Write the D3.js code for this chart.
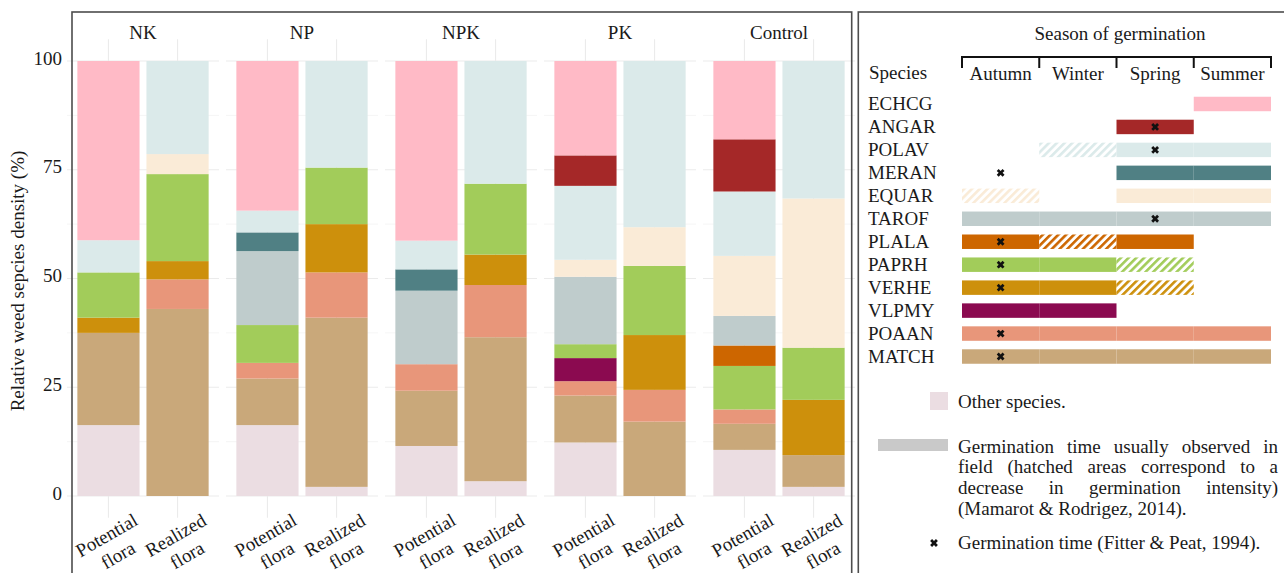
<!DOCTYPE html>
<html>
<head>
<meta charset="utf-8">
<script src="https://cdn.jsdelivr.net/npm/d3@7"></script>
<style>
  body { margin: 0; background: #fff; }
  svg { display: block; font-family: "Liberation Serif", "Times New Roman", serif; }
</style>
</head>
<body>
<svg id="chart" width="1284" height="573"></svg>
<script>
// ---- Relative density data (%), one value per fertilisation x flora bar ----
const groups = ["NK", "NP", "NPK", "PK", "Control"];
const floraTypes = ["Potential flora", "Realized flora"];
// stacking order, bottom to top
const stackKeys = ["Other", "MATCH", "POAAN", "VLPMY", "VERHE", "PAPRH", "PLALA",
                   "TAROF", "EQUAR", "MERAN", "POLAV", "ANGAR", "ECHCG"];
// bar order: NK-P, NK-R, NP-P, NP-R, NPK-P, NPK-R, PK-P, PK-R, Control-P, Control-R
const Other = [16.3, 0.0, 16.3, 2.1, 11.5, 3.4, 12.3, 0.0, 10.6, 2.1];
const MATCH = [21.2, 43.0, 10.7, 38.9, 12.7, 33.1, 10.8, 17.1, 6.0, 7.3];
const POAAN = [0.0, 6.8, 3.6, 10.4, 6.1, 12.0, 3.3, 7.3, 3.3, 0.0];
const VLPMY = [0.0, 0.0, 0.0, 0.0, 0.0, 0.0, 5.3, 0.0, 0.0, 0.0];
const VERHE = [3.5, 4.2, 0.0, 11.1, 0.0, 7.0, 0.0, 12.6, 0.0, 12.7];
const PAPRH = [10.4, 20.0, 8.7, 13.0, 0.0, 16.3, 3.2, 15.9, 10.0, 12.0];
const PLALA = [0.0, 0.0, 0.0, 0.0, 0.0, 0.0, 0.0, 0.0, 4.7, 0.0];
const TAROF = [0.0, 0.0, 17.0, 0.0, 16.9, 0.0, 15.5, 0.0, 6.8, 0.0];
const EQUAR = [0.0, 4.6, 0.0, 0.0, 0.0, 0.0, 3.9, 8.9, 13.8, 34.3];
const MERAN = [0.0, 0.0, 4.3, 0.0, 4.9, 0.0, 0.0, 0.0, 0.0, 0.0];
const POLAV = [7.4, 21.4, 5.0, 24.5, 6.6, 28.2, 17.0, 38.2, 14.8, 31.6];
const ANGAR = [0.0, 0.0, 0.0, 0.0, 0.0, 0.0, 7.0, 0.0, 12.0, 0.0];
const ECHCG = [41.2, 0.0, 34.4, 0.0, 41.3, 0.0, 21.7, 0.0, 18.0, 0.0];
const yTicks = [0, 25, 50, 75, 100];

// ---- Germination calendar ----
const seasons = ["Autumn", "Winter", "Spring", "Summer"];
const speciesRows = ["ECHCG", "ANGAR", "POLAV", "MERAN", "EQUAR", "TAROF",
                     "PLALA", "PAPRH", "VERHE", "VLPMY", "POAAN", "MATCH"];
// per season: 0 = none, 1 = usual germination, 2 = reduced (hatched)
const germinationPeriods = {
  ECHCG: [0, 0, 0, 1], ANGAR: [0, 0, 1, 0], POLAV: [0, 2, 1, 1], MERAN: [0, 0, 1, 1],
  EQUAR: [2, 0, 1, 1], TAROF: [1, 1, 1, 1], PLALA: [1, 2, 1, 0], PAPRH: [1, 1, 2, 0],
  VERHE: [1, 1, 2, 0], VLPMY: [1, 1, 0, 0], POAAN: [1, 1, 1, 1], MATCH: [1, 1, 1, 1]
};
// season of germination reported by Fitter & Peat (1994)
const fitterSeason = {
  ANGAR: "Spring", POLAV: "Spring", MERAN: "Autumn", TAROF: "Spring", PLALA: "Autumn",
  PAPRH: "Autumn", VERHE: "Autumn", POAAN: "Autumn", MATCH: "Autumn"
};
const legendNote = ["Germination time usually observed in",
                    "field (hatched areas correspond to a",
                    "decrease in germination intensity)",
                    "(Mamarot & Rodrigez, 2014)."];

const colors = {
  Other: "#ebdde2", MATCH: "#c9a87a", POAAN: "#e8967a", VLPMY: "#8b0a50",
  VERHE: "#cd900c", PAPRH: "#a2cc5a", PLALA: "#cd6600", TAROF: "#bfcccc",
  EQUAR: "#faebd7", MERAN: "#508084", POLAV: "#dbeaea", ANGAR: "#a52828",
  ECHCG: "#ffbac6"
};

const seriesValues = { Other, MATCH, POAAN, VLPMY, VERHE, PAPRH, PLALA, TAROF, EQUAR, MERAN, POLAV, ANGAR, ECHCG };

const rows = [];
groups.forEach((g, gi) => floraTypes.forEach((f, fi) => {
  const r = { group: g, flora: f };
  stackKeys.forEach(k => { r[k] = seriesValues[k][gi * 2 + fi]; });
  rows.push(r);
}));

const svg = d3.select("#chart");
const FS = 19;

// ---- scales ----
const xGroup = d3.scaleBand().domain(groups).range([67, 855]).paddingInner(7 / 159);
const xFlora = d3.scaleBand().domain(floraTypes).range([0, xGroup.bandwidth()])
  .paddingInner(0.1).paddingOuter(0.15);
const y = d3.scaleLinear().domain([0, 100]).range([496, 61]);
const panelTop = y(105), panelBottom = y(-5);

// ---- panels: grid ----
const minorTicks = d3.range(12.5, 100, 25);
groups.forEach(g => {
  const p = svg.append("g").attr("transform", `translate(${xGroup(g)},0)`);
  p.selectAll("line.minor").data(minorTicks).join("line")
    .attr("x1", 0).attr("x2", xGroup.bandwidth())
    .attr("y1", d => y(d)).attr("y2", d => y(d))
    .attr("stroke", "#f3f3f3").attr("stroke-width", 0.8);
  p.selectAll("line.major").data(yTicks).join("line")
    .attr("x1", 0).attr("x2", xGroup.bandwidth())
    .attr("y1", d => y(d)).attr("y2", d => y(d))
    .attr("stroke", "#ebebeb").attr("stroke-width", 1.1);
  p.selectAll("line.vert").data(floraTypes).join("line")
    .attr("x1", d => xFlora(d) + xFlora.bandwidth() / 2)
    .attr("x2", d => xFlora(d) + xFlora.bandwidth() / 2)
    .attr("y1", panelTop).attr("y2", panelBottom)
    .attr("stroke", "#ebebeb").attr("stroke-width", 1.1);
  // facet strip label
  p.append("text").attr("x", xGroup.bandwidth() / 2).attr("y", 39)
    .attr("text-anchor", "middle").attr("font-size", FS).attr("fill", "#1a1a1a").text(g);
});

// ---- stacked bars ----
const stacked = d3.stack().keys(stackKeys)(rows);
svg.append("g").selectAll("g").data(stacked).join("g")
  .attr("fill", d => colors[d.key])
  .selectAll("rect").data(d => d.filter(s => s[1] - s[0] > 0)).join("rect")
  .attr("x", d => xGroup(d.data.group) + xFlora(d.data.flora))
  .attr("width", xFlora.bandwidth())
  .attr("y", d => y(d[1]))
  .attr("height", d => y(d[0]) - y(d[1]));

// ---- y axis ----
const yAxis = svg.append("g").attr("transform", "translate(67,0)")
  .call(d3.axisLeft(y).tickValues(yTicks).tickSize(0).tickPadding(5));
yAxis.select(".domain").remove();
yAxis.selectAll("text").attr("font-size", FS).attr("fill", "#1a1a1a")
  .attr("font-family", "Liberation Serif, serif").attr("dy", "0.17em");

svg.append("text")
  .attr("transform", "translate(24,281) rotate(-90)")
  .attr("text-anchor", "middle").attr("font-size", FS).attr("fill", "#1a1a1a")
  .text("Relative weed sepcies density (%)");

// ---- x labels (two lines, slanted) ----
groups.forEach(g => floraTypes.forEach(f => {
  const cx = xGroup(g) + xFlora(f) + xFlora.bandwidth() / 2;
  const t = svg.append("text")
    .attr("transform", `translate(${cx - 2},535) rotate(-30)`)
    .attr("text-anchor", "middle").attr("font-size", FS).attr("fill", "#1a1a1a");
  f.split(" ").forEach((w, i) => {
    t.append("tspan").attr("x", 0).attr("dy", i === 0 ? "0.35em" : 23).text(w);
  });
}));

// ---- germination calendar ----
const xSeason = d3.scaleBand().domain(seasons).range([962, 1271]);
const yRow = d3.scaleBand().domain(speciesRows).range([92.5, 368])
  .paddingInner(0.37).paddingOuter(0.185);

const defs = svg.append("defs");
speciesRows.forEach(s => {
  const pat = defs.append("pattern").attr("id", "hatch-" + s)
    .attr("patternUnits", "userSpaceOnUse").attr("width", 5.5).attr("height", 5.5)
    .attr("patternTransform", "rotate(45)");
  pat.append("rect").attr("width", 5.5).attr("height", 5.5).attr("fill", "#fff");
  pat.append("rect").attr("width", 2.6).attr("height", 5.5).attr("fill", colors[s]);
});

svg.append("text").attr("x", 1120).attr("y", 40).attr("text-anchor", "middle")
  .attr("font-size", FS).attr("fill", "#1a1a1a").text("Season of germination");

// bracket above the seasons
const bracketY = 57, bracketTick = 68;
const edges = seasons.map(s => xSeason(s)).concat([xSeason.range()[1]]);
svg.append("line").attr("x1", edges[0] - 1).attr("x2", edges[edges.length - 1] + 1)
  .attr("y1", bracketY).attr("y2", bracketY).attr("stroke", "#111").attr("stroke-width", 2);
svg.selectAll("line.edge").data(edges).join("line")
  .attr("x1", d => d).attr("x2", d => d).attr("y1", bracketY).attr("y2", bracketTick)
  .attr("stroke", "#111").attr("stroke-width", 2);
svg.selectAll("text.season").data(seasons).join("text")
  .attr("x", d => xSeason(d) + xSeason.bandwidth() / 2).attr("y", 80)
  .attr("text-anchor", "middle").attr("font-size", FS).attr("fill", "#1a1a1a").text(d => d);
svg.append("text").attr("x", 869).attr("y", 79).attr("font-size", FS)
  .attr("fill", "#1a1a1a").text("Species");

svg.selectAll("text.sp").data(speciesRows).join("text")
  .attr("x", 868).attr("y", d => yRow(d) + yRow.bandwidth() / 2 + 6.5)
  .attr("font-size", FS).attr("fill", "#1a1a1a").text(d => d);

const cells = [];
speciesRows.forEach(s => germinationPeriods[s].forEach((v, i) => {
  if (v > 0) cells.push({ s, season: seasons[i], v });
}));
svg.append("g").selectAll("rect").data(cells).join("rect")
  .attr("x", d => xSeason(d.season)).attr("width", xSeason.bandwidth())
  .attr("y", d => yRow(d.s)).attr("height", yRow.bandwidth())
  .attr("fill", d => d.v === 1 ? colors[d.s] : `url(#hatch-${d.s})`);

const cross = d3.symbol().type(d3.symbolCross).size(38);
svg.append("g").selectAll("path").data(Object.entries(fitterSeason)).join("path")
  .attr("d", cross)
  .attr("transform", d => `translate(${xSeason(d[1]) + xSeason.bandwidth() / 2},${yRow(d[0]) + yRow.bandwidth() / 2}) rotate(45)`)
  .attr("fill", "#111");

// ---- key ----
svg.append("rect").attr("x", 930).attr("y", 392).attr("width", 18).attr("height", 18)
  .attr("fill", colors.Other);
svg.append("text").attr("x", 958).attr("y", 408).attr("font-size", FS)
  .attr("fill", "#1a1a1a").text("Other species.");

svg.append("rect").attr("x", 878).attr("y", 439).attr("width", 70).attr("height", 12)
  .attr("fill", "#c9c9c9");

// justified paragraph
const noteX0 = 958, noteX1 = 1278;
const noteBase = [452.5, 473.2, 493.9, 514.6];
const note = svg.append("g").attr("font-size", FS).attr("fill", "#1a1a1a");
legendNote.forEach((line, li) => {
  const words = line.split(" ");
  const nodes = words.map(w => note.append("text").attr("y", noteBase[li]).text(w));
  const widths = nodes.map(n => n.node().getComputedTextLength());
  const last = li === legendNote.length - 1;
  const gap = last ? FS * 0.25
    : (noteX1 - noteX0 - d3.sum(widths)) / (words.length - 1);
  let x = noteX0;
  nodes.forEach((n, i) => { n.attr("x", x); x += widths[i] + gap; });
});

svg.append("path").attr("d", cross)
  .attr("transform", "translate(934,543) rotate(45)").attr("fill", "#111");
svg.append("text").attr("x", 958).attr("y", 549).attr("font-size", FS)
  .attr("fill", "#1a1a1a").text("Germination time (Fitter & Peat, 1994).");

// ---- frames ----
svg.append("rect").attr("x", 72).attr("y", 12).attr("width", 851.7 - 72).attr("height", 600)
  .attr("fill", "none").attr("stroke", "#4d4d4d").attr("stroke-width", 1.6);
svg.append("rect").attr("x", 858.3).attr("y", 12).attr("width", 500).attr("height", 600)
  .attr("fill", "none").attr("stroke", "#4d4d4d").attr("stroke-width", 1.6);
</script>
</body>
</html>
